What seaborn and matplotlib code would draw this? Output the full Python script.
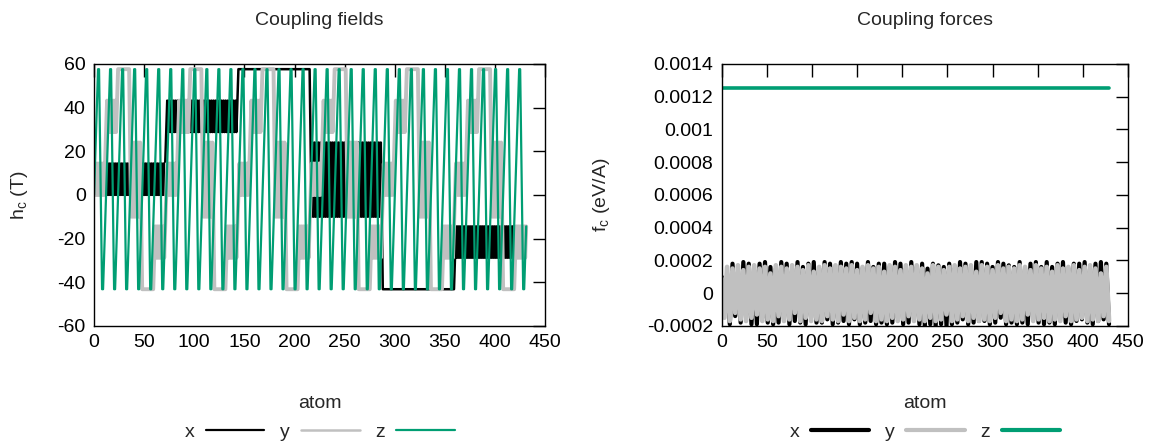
import numpy as np
import pandas as pd
import matplotlib
matplotlib.use('Agg')
import matplotlib.pyplot as plt
import seaborn as sns
from matplotlib.lines import Line2D
from matplotlib.ticker import MultipleLocator, FuncFormatter

sns.set_theme(style='white')
plt.rcParams['font.family'] = ['Liberation Sans', 'DejaVu Sans']
plt.rcParams['font.size'] = 14
plt.rcParams['axes.unicode_minus'] = False

n_atoms = 432

# coupling field levels: 6 states, each state alternates between two values (T)
level_a = [0.0, 28.8, 57.6, 24.0, -43.2, -28.8]
level_b = [14.4, 43.2, 57.6, -10.0, -43.2, -14.4]
# how many atoms each component stays in one state
block_x, block_y, block_z = 72, 12, 2

# coupling forces, sampled every 3 atoms (units of 1e-4 eV/A)
force_step = 3
force_y = [
    0.9, -1.5, 1.6, -1.7, 1.5, -1.2, 1.7, -1.6, 1.4, -1.7, 1.6, -1.5,
    1.7, -1.3, 1.5, -1.7, 1.6, -1.6, 1.2, -1.7, 1.7, -1.4, 1.6, -1.7,
    1.5, -1.6, 1.7, -1.2, 1.6, -1.7, 1.4, -1.5, 1.7, -1.7, 1.3, -1.6,
    1.6, -1.7, 1.7, -1.4, 1.5, -1.6, 1.7, -1.7, 1.6, -1.3, 1.5, -1.7,
    1.7, -1.5, 1.4, -1.7, 1.6, -1.6, 1.7, -1.2, 1.5, -1.7, 1.6, -1.6,
    1.3, -1.7, 1.7, -1.5, 1.6, -1.7, 1.4, -1.6, 1.7, -1.4, 1.6, -1.7,
    1.7, -1.6, 1.5, -1.7, 1.2, -1.5, 1.7, -1.7, 1.6, -1.6, 1.4, -1.3,
    1.6, -1.7, 1.7, -1.6, 1.5, -1.4, 1.6, -1.7, 1.7, -1.5, 1.3, -1.7,
    1.7, -1.6, 1.6, -1.7, 1.4, -1.5, 1.7, -1.2, 1.5, -1.7, 1.6, -1.6,
    1.5, -1.7, 1.7, -1.6, 1.6, -1.3, 1.4, -1.7, 1.7, -1.6, 1.5, -1.5,
    1.6, -1.7, 1.3, -1.6, 1.7, -1.7, 1.5, -1.4, 1.6, -1.7, 1.7, -1.6,
    1.4, -1.5, 1.6, -1.7, 1.7, -1.6, 1.5, -1.7, 1.2, -1.4, 1.6, -1.7,
]
force_x = [
    1.0, -0.3, 0.6, -1.9, 1.8, -1.4, 1.2, -1.8, 1.9, -1.5, 1.8, -1.9,
    1.4, -1.9, 1.8, -1.5, 1.9, -1.8, 1.6, -1.9, 1.5, -1.8, 1.9, -1.6,
    1.8, -1.9, 1.5, -1.7, 1.9, -1.8, 1.6, -1.9, 1.8, -1.5, 1.9, -1.8,
    1.5, -1.8, 1.9, -1.6, 1.8, -1.9, 1.4, -1.8, 1.9, -1.7, 1.8, -1.9,
    1.9, -1.6, 1.8, -1.9, 1.5, -1.8, 1.9, -1.7, 1.6, -1.9, 1.8, -1.8,
    1.8, -1.9, 1.6, -1.8, 1.9, -1.5, 1.8, -1.9, 1.5, -1.8, 1.9, -1.6,
    1.6, -1.9, 1.8, -2.0, 1.5, -1.9, 1.8, -2.0, 1.7, -1.9, 1.6, -2.0,
    1.8, -1.9, 1.5, -1.8, 1.9, -1.6, 1.8, -1.9, 1.6, -1.8, 1.9, -1.7,
    1.9, -1.7, 1.8, -1.9, 1.6, -1.8, 1.9, -1.5, 1.8, -1.9, 1.7, -1.8,
    1.6, -1.9, 1.9, -1.8, 1.5, -1.9, 1.8, -1.6, 1.9, -1.8, 1.6, -1.9,
    1.9, -1.8, 1.6, -1.9, 1.8, -1.5, 1.9, -1.8, 1.5, -1.9, 1.8, -1.7,
    1.8, -1.6, 1.9, -1.8, 1.5, -1.9, 1.8, -1.7, 1.9, -1.6, 1.8, -1.9,
]
force_z = 12.5

colors = {'x': '#000000', 'y': '#c0c0c0', 'z': '#009e73'}

# build the field table
atoms = np.arange(n_atoms)
pairs = np.array([level_a, level_b])
fields = pd.DataFrame({
    'atom': atoms,
    'x': pairs[atoms % 2, (atoms // block_x) % 6],
    'y': pairs[atoms % 2, (atoms // block_y) % 6],
    'z': pairs[atoms % 2, (atoms // block_z) % 6],
})

f_atoms = np.arange(len(force_y)) * force_step
forces = pd.DataFrame({
    'atom': f_atoms,
    'x': np.array(force_x) * 1e-4,
    'y': np.array(force_y) * 1e-4,
    'z': np.full(len(f_atoms), force_z * 1e-4),
})

fig = plt.figure(figsize=(11.51, 4.44), dpi=100)
ax1 = fig.add_axes([0.0817, 0.266, 0.392, 0.590])
ax2 = fig.add_axes([0.627, 0.266, 0.353, 0.590])

widths_h = {'x': 1.8, 'y': 2.8, 'z': 1.6}
widths_f = {'x': 3.0, 'y': 3.4, 'z': 2.6}

for c in ['x', 'y', 'z']:
    sns.lineplot(data=fields, x='atom', y=c, ax=ax1, color=colors[c],
                 linewidth=widths_h[c], estimator=None, sort=False)
    sns.lineplot(data=forces, x='atom', y=c, ax=ax2, color=colors[c],
                 linewidth=widths_f[c], estimator=None, sort=False)

ax1.set_xlim(0, 450)
ax1.set_ylim(-60, 60)
ax1.xaxis.set_major_locator(MultipleLocator(50))
ax1.yaxis.set_major_locator(MultipleLocator(20))
ax1.set_ylabel(r'h$_\mathregular{c}$ (T)', fontsize=14)
ax1.yaxis.set_label_coords(-0.142, 0.5)
ax1.set_title('Coupling fields', fontsize=14, pad=28)

ax2.set_xlim(0, 450)
ax2.set_ylim(-0.0002, 0.0014)
ax2.xaxis.set_major_locator(MultipleLocator(50))
ax2.yaxis.set_major_locator(MultipleLocator(0.0002))
ax2.yaxis.set_major_formatter(FuncFormatter(lambda v, p: '%g' % round(v, 6)))
ax2.set_ylabel(r'f$_\mathregular{c}$ (eV/A)', fontsize=14)
ax2.yaxis.set_label_coords(-0.27, 0.5)
ax2.set_title('Coupling forces', fontsize=14, pad=28)

for ax, widths in [(ax1, {'x': 1.6, 'y': 1.8, 'z': 1.6}), (ax2, {'x': 3.0, 'y': 3.0, 'z': 3.0})]:
    ax.set_xlabel('atom', fontsize=14)
    ax.xaxis.set_label_coords(0.5, -0.265)
    ax.tick_params(direction='in', length=9, width=1, top=True, right=True,
                   colors='black', labelsize=14, pad=6)
    for s in ax.spines.values():
        s.set_color('black')
        s.set_linewidth(1)
    handles = [Line2D([], [], color=colors[c], linewidth=widths[c]) for c in ['x', 'y', 'z']]
    ax.legend(handles, ['x', 'y', 'z'], loc='center', bbox_to_anchor=(0.5, -0.405),
              ncol=3, frameon=False, markerfirst=False, handlelength=3.0,
              handletextpad=0.6, columnspacing=0.8, fontsize=14)

fig.savefig('out.png', dpi=100)
